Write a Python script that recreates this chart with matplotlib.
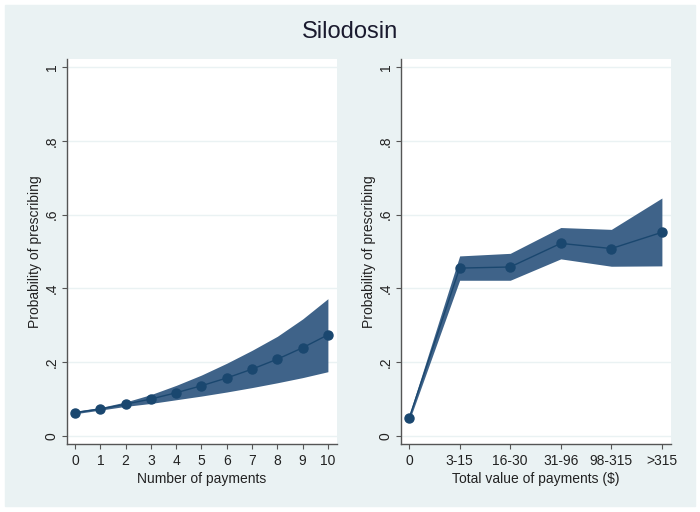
import matplotlib
matplotlib.use("Agg")
import matplotlib.pyplot as plt
from matplotlib.patches import Rectangle

plt.rcParams['font.family'] = ['Liberation Sans', 'DejaVu Sans']

# left panel: number of payments
n_pay = [0, 1, 2, 3, 4, 5, 6, 7, 8, 9, 10]
n_prob = [0.063, 0.073, 0.086, 0.100, 0.117, 0.136, 0.157, 0.181, 0.208, 0.239, 0.274]
n_lo = [0.060, 0.070, 0.080, 0.088, 0.098, 0.108, 0.119, 0.131, 0.144, 0.158, 0.174]
n_hi = [0.067, 0.077, 0.092, 0.112, 0.137, 0.165, 0.197, 0.232, 0.270, 0.317, 0.372]

# right panel: total value of payments
v_cats = ['0', '3-15', '16-30', '31-96', '98-315', '>315']
v_prob = [0.048, 0.455, 0.458, 0.522, 0.508, 0.552]
v_lo = [0.040, 0.422, 0.422, 0.480, 0.460, 0.461]
v_hi = [0.056, 0.488, 0.495, 0.565, 0.560, 0.645]

bg = '#EAF2F3'
fill = '#3F6389'
dark = '#1A476F'
fs = 10

fig = plt.figure(figsize=(7, 5.12), dpi=100)
fig.patches.append(Rectangle((5/700, 1-506/512), 690/700, 501/512,
                             transform=fig.transFigure, color=bg, zorder=-10))

def setup(ax):
    ax.set_facecolor('white')
    ax.set_ylim(-0.022, 1.022)
    ax.set_yticks([0, 0.2, 0.4, 0.6, 0.8, 1])
    ax.set_yticklabels(['0', '.2', '.4', '.6', '.8', '1'], rotation=90, va='center')
    ax.grid(axis='y', color=bg, lw=1)
    ax.set_axisbelow(True)
    for s in ['top', 'right']:
        ax.spines[s].set_visible(False)
    for s in ['left', 'bottom']:
        ax.spines[s].set_color('#555555')
        ax.spines[s].set_linewidth(1)
    ax.tick_params(colors='#555555', labelcolor='#222222', labelsize=fs, length=3.5)
    ax.tick_params(axis='y', pad=2.5)
    ax.set_ylabel('Probability of prescribing', fontsize=fs, color='#222222', labelpad=2)

ax1 = fig.add_axes([67/700, 1-444/512, 270/700, 385/512])
setup(ax1)
ax1.fill_between(n_pay, n_lo, n_hi, color=fill, lw=0)
ax1.plot(n_pay, n_prob, color=dark, lw=1, marker='o', ms=6.5)
ax1.set_xlim(-0.32, 10.36)
ax1.set_xticks(n_pay)
ax1.set_xlabel('Number of payments', fontsize=fs, color='#222222', labelpad=3)

ax2 = fig.add_axes([401/700, 1-444/512, 270/700, 385/512])
setup(ax2)
xs = list(range(len(v_cats)))
ax2.fill_between(xs, v_lo, v_hi, color=fill, lw=0)
ax2.plot(xs, v_prob, color=dark, lw=1, marker='o', ms=6.5)
ax2.set_xlim(-0.16, 5.18)
ax2.set_xticks(xs)
ax2.set_xticklabels(v_cats)
ax2.set_xlabel('Total value of payments ($)', fontsize=fs, color='#222222', labelpad=3)

fig.text(0.5, 1-32/512, 'Silodosin', ha='center', va='center', fontsize=17, color='#1a1a2e')

fig.savefig('out.png', dpi=100)
